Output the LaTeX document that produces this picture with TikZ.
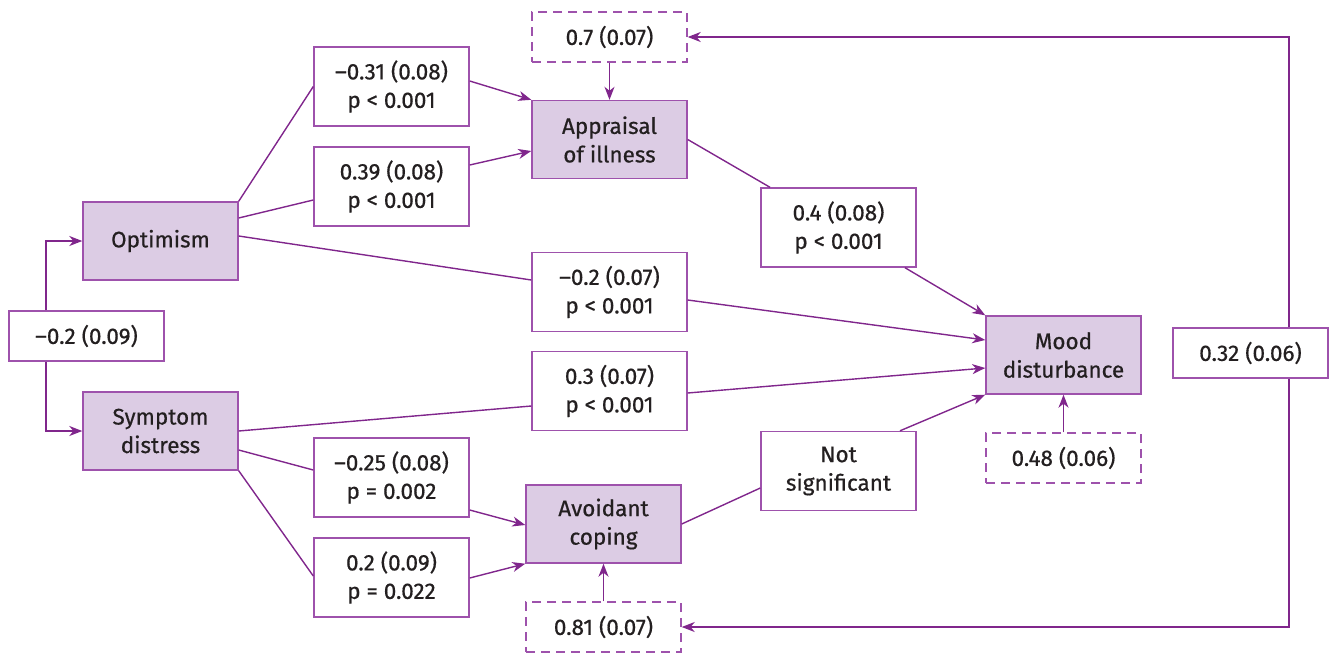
\documentclass[tikz,border=0pt]{standalone}
\usepackage{fontspec}
\setmainfont{Fira Sans}
\newfontfamily\lblfont{Fira Sans}[FakeBold=0.6]
\usetikzlibrary{arrows.meta}
\definecolor{ln}{RGB}{128,38,140}
\definecolor{bd}{RGB}{158,82,172}
\definecolor{fl}{RGB}{220,204,228}
\definecolor{tx}{RGB}{35,31,32}
\tikzset{
  base/.style={draw=bd, line width=1.4pt, align=center, inner sep=0pt, text=tx,
    font=\lblfont\fontsize{22.5}{28.5}\selectfont, minimum width=155pt},
  var/.style={base, fill=fl, minimum height=78pt},
  coef/.style={base, fill=white, minimum height=79pt},
  one/.style={base, fill=white, minimum height=50pt},
  resid/.style={base, fill=white, minimum height=50pt, dash pattern=on 9pt off 6pt},
  conn/.style={draw=ln, line width=1.4pt},
  arr/.style={conn, -{Stealth[length=13pt,width=10pt,inset=4pt]}}
}
\begin{document}
\begin{tikzpicture}[x=1pt,y=-1pt]
\useasboundingbox (0,0) rectangle (1330,654);
% nodes
\node[var] (opt) at (160.5,241) {Optimism};
\node[var] (sym) at (160.5,431) {Symptom\\distress};
\node[one] (cov) at (86.5,336) {–0.2 (0.09)};
\node[coef] (b1) at (391.5,86.5) {–0.31 (0.08)\\p < 0.001};
\node[coef] (b2) at (391.5,186.5) {0.39 (0.08)\\p < 0.001};
\node[resid] (r1) at (609.5,37) {0.7 (0.07)};
\node[var] (app) at (609.5,139.5) {Appraisal\\of illness};
\node[coef] (b3) at (838.5,227.5) {0.4 (0.08)\\p < 0.001};
\node[coef] (b4) at (609.5,292) {–0.2 (0.07)\\p < 0.001};
\node[coef] (b5) at (609.5,391) {0.3 (0.07)\\p < 0.001};
\node[var] (mood) at (1063.5,355) {Mood\\disturbance};
\node[resid] (r3) at (1063.5,458) {0.48 (0.06)};
\node[coef] (ns) at (838.5,471) {Not\\significant};
\node[coef] (b6) at (391.5,477.5) {–0.25 (0.08)\\p = 0.002};
\node[coef] (b7) at (391.5,577.5) {0.2 (0.09)\\p = 0.022};
\node[var] (avo) at (603.5,524) {Avoidant\\coping};
\node[resid] (r2) at (603.5,627) {0.81 (0.07)};
\node[one] (b8) at (1250.5,353) {0.32 (0.06)};
% covariance
\draw[arr] ([xshift=-40.5pt]cov.north) |- (opt.west);
\draw[arr] ([xshift=-40.5pt]cov.south) |- (sym.west);
% optimism -> appraisal
\draw[conn] (opt.north east) -- (b1.west);
\draw[arr] ([yshift=5.5pt]b1.east) -- (app.north west);
\draw[conn] ([yshift=23pt]opt.east) -- ([yshift=-13.5pt]b2.west);
\draw[arr] ([yshift=21.5pt]b2.east) -- ([yshift=-11.5pt]app.west);
% optimism -> mood
\draw[conn] ([yshift=5pt]opt.east) -- ([yshift=12pt]b4.west);
\draw[arr] ([yshift=-8pt]b4.east) -- ([yshift=15pt]mood.west);
% symptom -> mood
\draw[conn] (sym.east) -- ([yshift=-15pt]b5.west);
\draw[arr] ([yshift=-2pt]b5.east) -- ([yshift=-13pt]mood.west);
% symptom -> avoidant
\draw[conn] ([yshift=-19pt]sym.east) -- ([yshift=7.5pt]b6.west);
\draw[arr] ([yshift=-32.5pt]b6.east) -- ([yshift=-1pt]avo.west);
\draw[conn] (sym.south east) -- ([yshift=1.5pt]b7.west);
\draw[arr] ([yshift=-0.5pt]b7.east) -- (avo.south west);
% appraisal -> mood
\draw[conn] (app.east) -- ([xshift=-68.5pt]b3.north);
\draw[arr] ([xshift=66.5pt]b3.south) -- (mood.north west);
% avoidant -> mood
\draw[conn] (avo.east) -- ([yshift=-17pt]ns.west);
\draw[arr] ([xshift=61.5pt]ns.north) -- (mood.south west);
% residuals
\draw[arr] (r1.south) -- (app.north);
\draw[arr] (r3.north) -- (mood.south);
\draw[arr] (r2.north) -- (avo.south);
% residual covariance
\draw[arr] ([xshift=38.5pt]b8.north) |- (r1.east);
\draw[arr] ([xshift=38.5pt]b8.south) |- (r2.east);
\end{tikzpicture}
\end{document}
